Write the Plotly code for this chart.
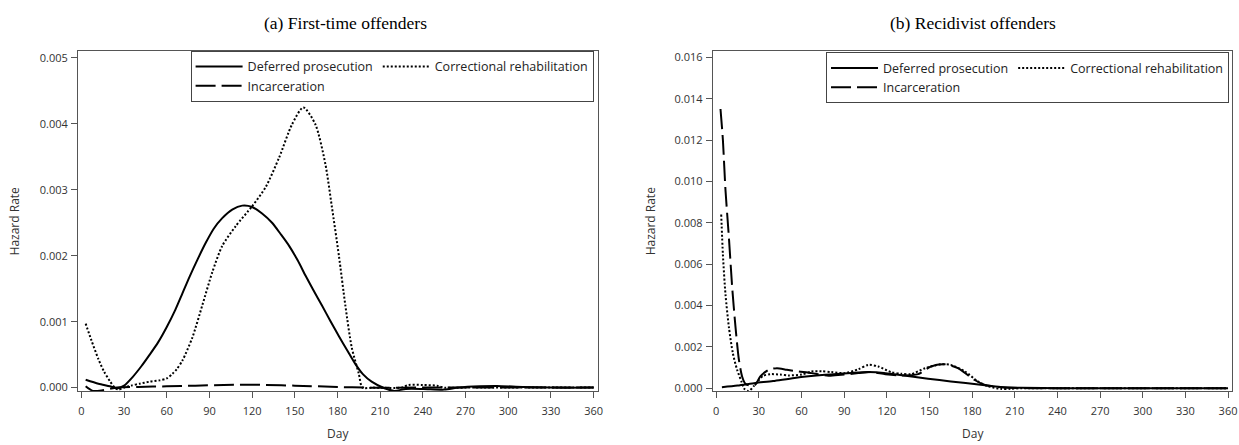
import plotly.graph_objects as go

# ---------------- Data ----------------
tick_days = [0, 30, 60, 90, 120, 150, 180, 210, 240, 270, 300, 330, 360]

# (a) First-time offenders
a_def_day = [3, 12, 20, 25, 30, 36, 42, 48, 54, 60, 66, 71, 76, 82, 87.5, 93, 99, 106, 113, 120,
             127, 134, 140, 146, 152, 157.5, 163, 169, 175, 181, 187, 192.5, 198, 204, 213, 220,
             228, 240, 255, 265, 280, 292, 310, 330, 360]
a_def_val = [0.00012, 0.00006, 0.00002, -0.00001, 0.00003, 0.00016, 0.00032, 0.0005, 0.00069,
             0.00092, 0.00118, 0.00143, 0.00168, 0.00196, 0.0022, 0.00241, 0.00257, 0.0027,
             0.00276, 0.00274, 0.00264, 0.0025, 0.00233, 0.00215, 0.00193, 0.0017, 0.00148,
             0.00125, 0.00101, 0.00078, 0.00056, 0.00036, 0.0002, 0.00009, -0.00001, -0.00005,
             -0.00002, -0.00002, -0.00003, 0.0, 0.00002, 0.000025, 0.00001, 0.0, 0.0]

a_cor_day = [3, 7, 12, 16, 20, 23.5, 26, 30, 35, 41, 48, 55, 60, 64, 67, 71, 78, 85, 92, 99,
             108.5, 120, 129.5, 139, 148, 156, 164.5, 171.5, 176, 181, 185.5, 190, 195, 197.5,
             205, 225, 230, 240, 250, 255, 270, 360]
a_cor_val = [0.00097, 0.00072, 0.00043, 0.00024, 0.0001, 0.0, -0.00003, 0.0, 0.00003, 0.00006,
             0.00009, 0.00011, 0.00014, 0.00021, 0.00028, 0.00041, 0.00076, 0.00125, 0.00175,
             0.00215, 0.00245, 0.00275, 0.00304, 0.00349, 0.00399, 0.00425, 0.00399, 0.00339,
             0.00275, 0.002, 0.00125, 0.00061, 0.00021, 0.0, 0.0, 0.0, 0.00004, 0.00004,
             0.00003, 0.0, 0.0, 0.0]

a_inc_day = [3, 8, 15, 25, 40, 60, 80, 100, 115, 130, 150, 180, 200, 240, 255, 300, 360]
a_inc_val = [0.00002, -0.00005, -0.00004, 0.0, 0.00001, 0.00002, 0.00003, 0.00004, 0.000045,
             0.00004, 0.00003, 0.00001, 0.0, 0.0, 0.0, 0.0, 0.0]

# (b) Recidivist offenders
b_def_day = [4, 15, 27.5, 40, 55, 76.5, 95, 107, 118, 128, 149, 165, 186, 200, 214, 240, 360]
b_def_val = [0.00005, 0.00013, 0.00025, 0.00035, 0.0005, 0.00065, 0.00074, 0.00078, 0.00074,
             0.00065, 0.00046, 0.00033, 0.00017, 0.00006, 0.00002, 0.0, 0.0]

b_cor_day = [3.5, 4.7, 6.5, 8.9, 11.7, 14.7, 17.7, 19.8, 22.9, 26.4, 30, 33, 38, 45, 51, 60,
             67, 74, 81, 90.5, 100, 107, 114, 123, 130, 137, 147, 158, 165, 175, 184, 191,
             200, 207, 214, 240, 360]
b_cor_val = [0.0084, 0.00646, 0.00455, 0.00296, 0.00169, 0.00089, 0.00033, -0.00003, -0.00014,
             0.0001, 0.0004, 0.0006, 0.00068, 0.00066, 0.00062, 0.00066, 0.00081, 0.00082,
             0.00078, 0.00073, 0.00092, 0.00113, 0.00105, 0.00078, 0.0007, 0.00068, 0.00097,
             0.00116, 0.00113, 0.00081, 0.00033, 0.0001, -0.00003, -0.00003, 0.0, 0.0, 0.0]

b_inc_day = [3, 4.7, 6.5, 8.9, 11.2, 13.5, 15.9, 18.2, 20.5, 24, 27.5, 31, 37, 42.7, 49.7, 58,
             67, 79, 88, 100, 109, 119, 130, 142, 151, 160.5, 170, 181.5, 188.5, 195.5, 207,
             230, 360]
b_inc_val = [0.0135, 0.012, 0.0096, 0.0073, 0.0049, 0.003, 0.0014, 0.00057, 0.00022, 0.00012,
             0.00017, 0.00057, 0.00089, 0.00097, 0.00089, 0.00081, 0.00073, 0.0006, 0.00065,
             0.00073, 0.00078, 0.00068, 0.00062, 0.00068, 0.00105, 0.00116, 0.00097, 0.00041,
             0.00017, 0.00008, 0.00002, 0.0, 0.0]

a_yticks = [0.000, 0.001, 0.002, 0.003, 0.004, 0.005]
b_yticks = [0.000, 0.002, 0.004, 0.006, 0.008, 0.010, 0.012, 0.014, 0.016]

series_names = ["Deferred prosecution", "Correctional rehabilitation", "Incarceration"]
panel_titles = ["(a) First-time offenders", "(b) Recidivist offenders"]

# ---------------- Figure ----------------
W, H = 1239, 445
styles = [dict(color="black", width=2, dash="solid"),
          dict(color="black", width=2, dash="2px,2px"),
          dict(color="black", width=2, dash="20px,6px")]
groups = ["g1", "g2", "g1"]

fig = go.Figure()
panels = [
    ("x", "y", "legend", [(a_def_day, a_def_val), (a_cor_day, a_cor_val), (a_inc_day, a_inc_val)]),
    ("x2", "y2", "legend2", [(b_def_day, b_def_val), (b_cor_day, b_cor_val), (b_inc_day, b_inc_val)]),
]
for xa, ya, lg, data in panels:
    for i, (dx, dy) in enumerate(data):
        fig.add_trace(go.Scatter(
            x=dx, y=dy, mode="lines", name=series_names[i],
            line=dict(shape="spline", smoothing=0.7, **styles[i]),
            xaxis=xa, yaxis=ya, legend=lg, legendgroup=groups[i] + lg,
            hoverinfo="skip"))

axis_common = dict(showgrid=False, zeroline=False, showline=True, mirror=True,
                   linecolor="#555", linewidth=1, ticks="outside", ticklen=6,
                   tickcolor="#555", tickwidth=1,
                   tickfont=dict(family="Open Sans", size=11, color="#333"))

ydom = [1 - 394.5 / H, 1 - 50 / H]
fig.update_layout(
    width=W, height=H, margin=dict(l=0, r=0, t=0, b=0),
    paper_bgcolor="white", plot_bgcolor="white",
    xaxis=dict(domain=[78.3 / W, 600.7 / W], range=[-2.4, 363.3], tickvals=tick_days,
               anchor="y", ticklabelstandoff=4, **axis_common),
    yaxis=dict(domain=ydom, range=[-0.000054, 0.0051], tickvals=a_yticks, tickformat=".3f",
               anchor="x", ticklabelstandoff=1, **axis_common),
    xaxis2=dict(domain=[715.7 / W, 1237.3 / W], range=[-2.4, 363.0], tickvals=tick_days,
                anchor="y2", ticklabelstandoff=4, **axis_common),
    yaxis2=dict(domain=ydom, range=[-0.000143, 0.01629], tickvals=b_yticks, tickformat=".3f",
                anchor="x2", ticklabelstandoff=1, **axis_common),
    showlegend=True,
)

legend_common = dict(orientation="h", traceorder="grouped", tracegroupgap=0,
                     bgcolor="white", bordercolor="#444", borderwidth=1,
                     font=dict(family="Open Sans", size=12.5, color="#222"),
                     itemwidth=47, xanchor="right", yanchor="top", itemclick=False)
fig.update_layout(
    legend=dict(x=596 / W, y=1 - 49.5 / H, **legend_common),
    legend2=dict(x=1234 / W, y=1 - 51 / H, **legend_common),
)

ann = []
for t, cx in zip(panel_titles, [346.5, 976.6]):
    ann.append(dict(text=t, x=cx / W, y=1 - 21 / H, xref="paper", yref="paper",
                    showarrow=False, xanchor="center", yanchor="middle",
                    font=dict(family="Liberation Serif", size=17.5, color="black")))
for cx in [14.5, 653]:
    ann.append(dict(text="Hazard Rate", x=cx / W, y=1 - 222 / H, xref="paper", yref="paper",
                    showarrow=False, textangle=-90, xanchor="center", yanchor="middle",
                    font=dict(family="Open Sans", size=12, color="#333")))
for cx in [339.5, 976.5]:
    ann.append(dict(text="Day", x=cx / W, y=1 - 437 / H, xref="paper", yref="paper",
                    showarrow=False, xanchor="center", yanchor="middle",
                    font=dict(family="Open Sans", size=12, color="#333")))
fig.update_layout(annotations=ann)

fig.write_html("out.html", config={"displayModeBar": False, "staticPlot": True},
               post_script="document.body.style.margin='0';document.body.style.overflow='hidden';")
